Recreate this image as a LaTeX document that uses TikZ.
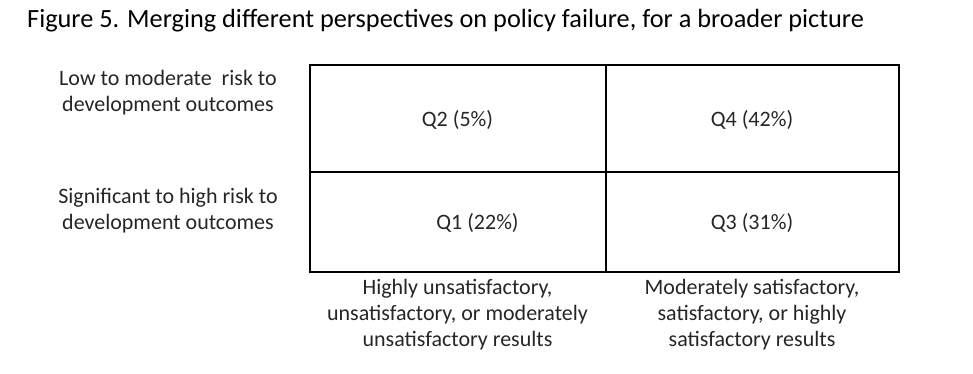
\documentclass[tikz,border=0pt]{standalone}
\usepackage{fontspec}
\setmainfont{Carlito}
\begin{document}
\begin{tikzpicture}[x=1pt,y=-1pt,
  txt/.style={font=\fontsize{22}{26}\selectfont, align=center, inner sep=0pt, text=black!85},
  grid/.style={line width=2pt, black}]
\useasboundingbox (0,0) rectangle (973,373);
\node[anchor=west, inner sep=0pt, font=\fontsize{26.3}{30}\selectfont] (title) at (27,21) {Figure 5. Merging different perspectives on policy failure, for a broader picture};
\coordinate (tl) at (310,65);
\coordinate (br) at (899,272);
\draw[grid] (tl) rectangle (br);
\coordinate (mt) at (605.5,65);
\coordinate (mb) at (605.5,272);
\coordinate (ml) at (310,171.5);
\coordinate (mr) at (899,171.5);
\draw[grid] (mt) -- (mb);
\draw[grid] (ml) -- (mr);
\node[txt] (q2) at (457.5,120) {Q2 (5\%)};
\node[txt] (q4) at (752,120) {Q4 (42\%)};
\node[txt] (q1) at (477.5,223) {Q1 (22\%)};
\node[txt] (q3) at (752,223) {Q3 (31\%)};
\node[txt] (r1) at (168,93) {Low to moderate\ \ risk to\\development outcomes};
\node[txt] (r2) at (168,210.5) {Significant to high risk to\\development outcomes};
\node[txt] (c1) at (457.5,315) {Highly unsatisfactory,\\unsatisfactory, or moderately\\unsatisfactory results};
\node[txt] (c2) at (752,315) {Moderately satisfactory,\\satisfactory, or highly\\satisfactory results};
\end{tikzpicture}
\end{document}
